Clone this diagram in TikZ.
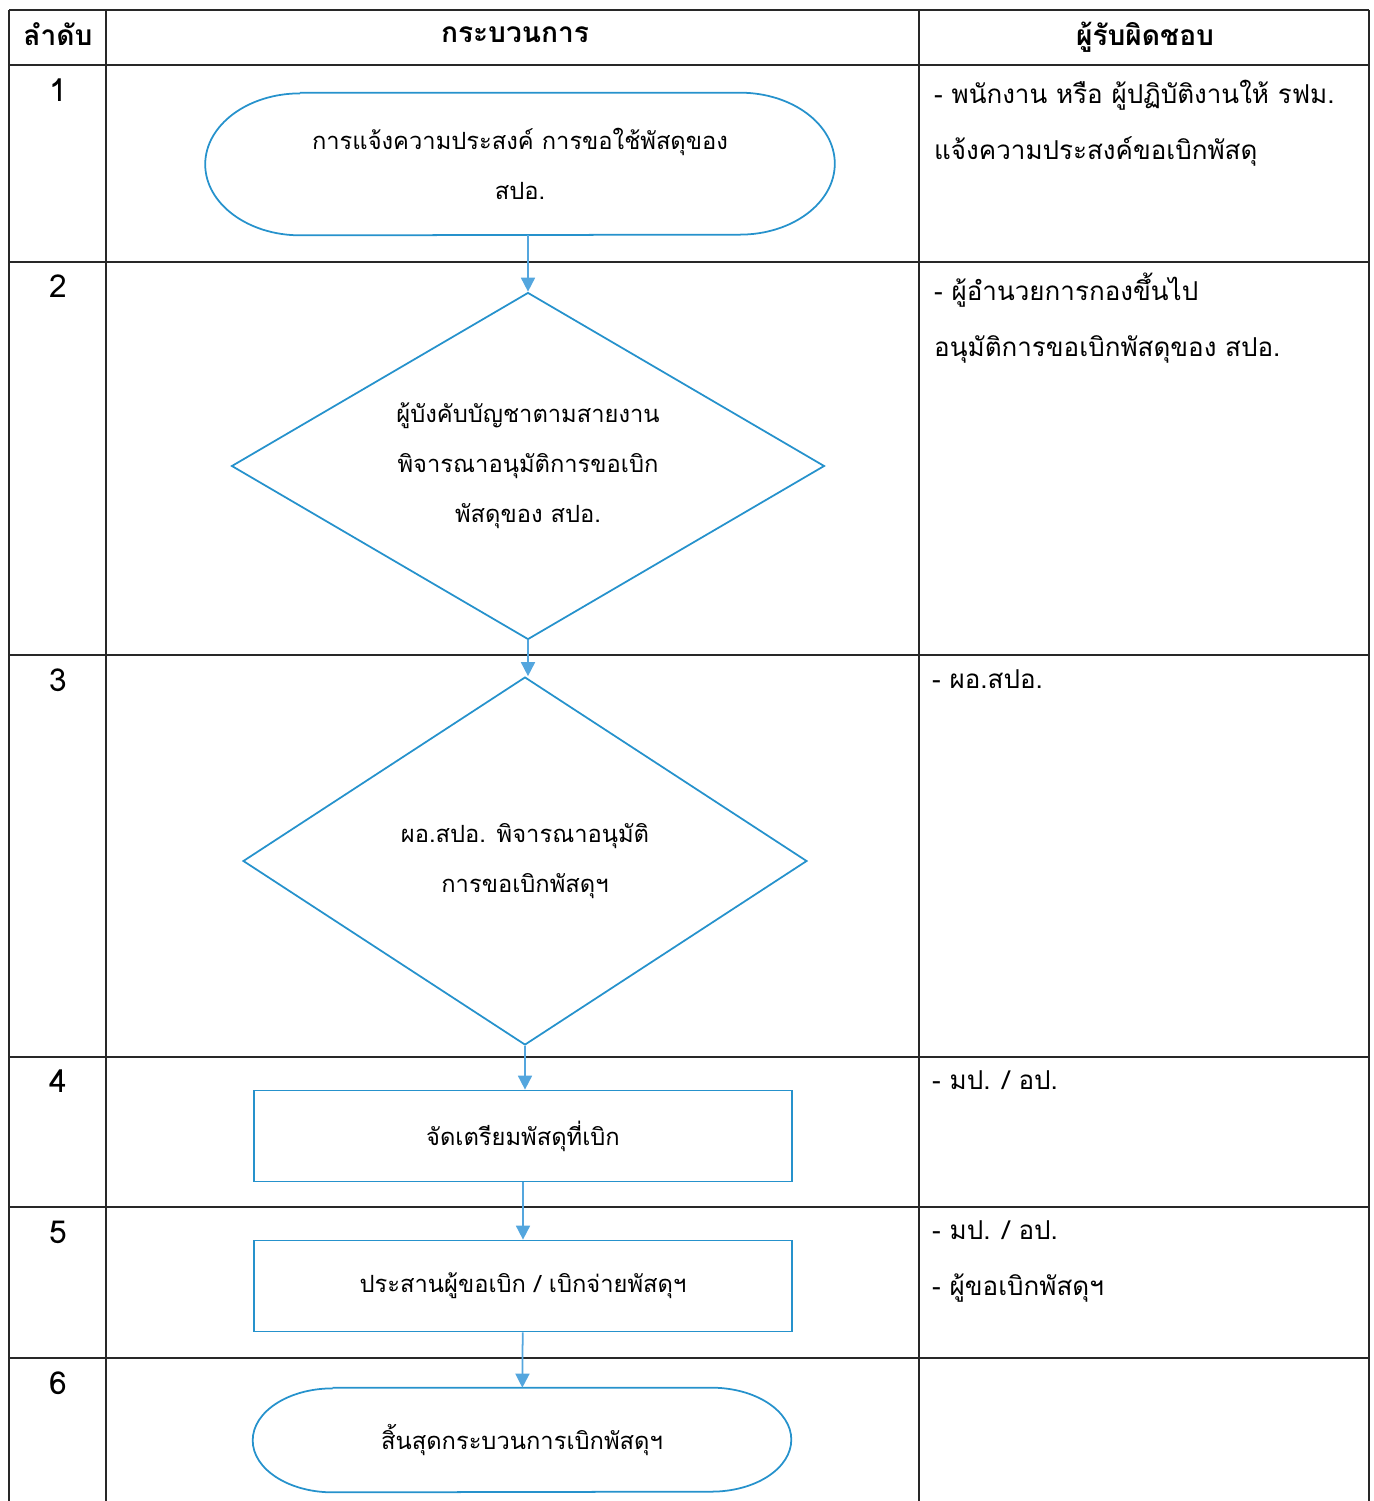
\documentclass[tikz,border=0pt]{standalone}
\usepackage{fontspec}
\setmainfont[Script=Thai]{Loma}
\usetikzlibrary{arrows.meta, positioning, shapes.geometric}

\definecolor{flowblue}{RGB}{38,146,204}
\definecolor{arrowblue}{RGB}{84,166,222}
\definecolor{gridline}{RGB}{40,40,40}

\tikzset{
  flowline/.style={draw=flowblue, line width=1pt},
  termbox/.style={rectangle, align=center, inner sep=0pt},
  decbox/.style={flowline, diamond, shape aspect=1.6, align=center, inner sep=0pt},
  procbox/.style={flowline, rectangle, align=center, inner sep=0pt},
  whotext/.style={anchor=north west, align=left, font=\fontsize{14.8}{32}\selectfont},
  numtext/.style={font=\fontsize{18}{24}\selectfont},
  headtext/.style={font=\bfseries\fontsize{16}{24}\selectfont}
}

\begin{document}
\begin{tikzpicture}[x=0.02cm, y=-0.02cm, every node/.style={font=\fontsize{13.5}{28.5}\selectfont}, >={Triangle[width=0.28cm, length=0.28cm]}]
\useasboundingbox (0,0) rectangle (1373,1501);

% Table
\foreach \ry in {10, 65, 262, 655, 1057, 1207, 1358}
  \draw[gridline, line width=1pt] (9,\ry) -- (1369,\ry);
\foreach \cx in {9, 106, 919, 1369}
  \draw[gridline, line width=1pt] (\cx,10) -- (\cx,1501);

% Header
\node (hnum) [headtext] at (58,34) {ลำดับ};
\node (hproc) [headtext] at (515,35) {กระบวนการ};
\node (hwho) [headtext] at (1145,37) {ผู้รับผิดชอบ};

% Step numbers
\node (n1) [numtext] at (58,90) {1};
\node (n2) [numtext] at (58,286) {2};
\node (n3) [numtext] at (58,680) {3};
\node (n4) [numtext] at (58,1081) {4};
\node (n5) [numtext] at (58,1232) {5};
\node (n6) [numtext] at (58,1383) {6};

% Nodes
\node (t1) [termbox, minimum width=12.58cm, minimum height=2.84cm] at (520,164) {การแจ้งความประสงค์ การขอใช้พัสดุของ\\สปอ.};
\node (d2) [decbox, minimum width=11.86cm, minimum height=6.94cm] at (528,466) {ผู้บังคับบัญชาตามสายงาน\\พิจารณาอนุมัติการขอเบิก\\พัสดุของ สปอ.};
\node (d3) [decbox, minimum width=11.28cm, minimum height=7.36cm] at (525,861) {ผอ.สปอ. พิจารณาอนุมัติ\\การขอเบิกพัสดุฯ};
\node (p4) [procbox, minimum width=10.76cm, minimum height=1.82cm] at (523,1136) {จัดเตรียมพัสดุที่เบิก};
\node (p5) [procbox, minimum width=10.76cm, minimum height=1.82cm] at (523,1286) {ประสานผู้ขอเบิก / เบิกจ่ายพัสดุฯ};
\node (t6) [termbox, minimum width=10.76cm, minimum height=2.08cm] at (522,1440) {สิ้นสุดกระบวนการเบิกพัสดุฯ};

% terminal outlines with oval ends
\draw[flowline] ([xshift=1.9cm]t1.north west) -- ([xshift=-1.9cm]t1.north east)
  arc[start angle=90, end angle=-90, x radius=1.9cm, y radius=1.42cm]
  -- ([xshift=1.9cm]t1.south west)
  arc[start angle=270, end angle=90, x radius=1.9cm, y radius=1.42cm];
\draw[flowline] ([xshift=1.6cm]t6.north west) -- ([xshift=-1.6cm]t6.north east)
  arc[start angle=90, end angle=-90, x radius=1.6cm, y radius=1.04cm]
  -- ([xshift=1.6cm]t6.south west)
  arc[start angle=270, end angle=90, x radius=1.6cm, y radius=1.04cm];

% Responsible
\node (w1) [whotext] at (928,74) {- พนักงาน หรือ ผู้ปฏิบัติงานให้ รฟม.\\แจ้งความประสงค์ขอเบิกพัสดุ};
\node (w2) [whotext] at (928,267) {- ผู้อำนวยการกองขึ้นไป\\อนุมัติการขอเบิกพัสดุของ สปอ.};
\node (w3) [whotext] at (926,663) {- ผอ.สปอ.};
\node (w4) [whotext] at (926,1064) {- มป. / อป.};
\node (w5) [whotext] at (926,1214) {- มป. / อป.\\- ผู้ขอเบิกพัสดุฯ};

% Arrows
\draw[->, arrowblue, line width=1pt] (d2.north |- t1.south) -- (d2.north);
\draw[->, arrowblue, line width=1pt] (d2.south) -- (d2.south |- d3.north);
\draw[->, arrowblue, line width=1pt] (d3.south) -- (d3.south |- p4.north);
\draw[->, arrowblue, line width=1pt] (p4) -- (p5);
\draw[->, arrowblue, line width=1pt] (p5) -- (t6);

\end{tikzpicture}
\end{document}
